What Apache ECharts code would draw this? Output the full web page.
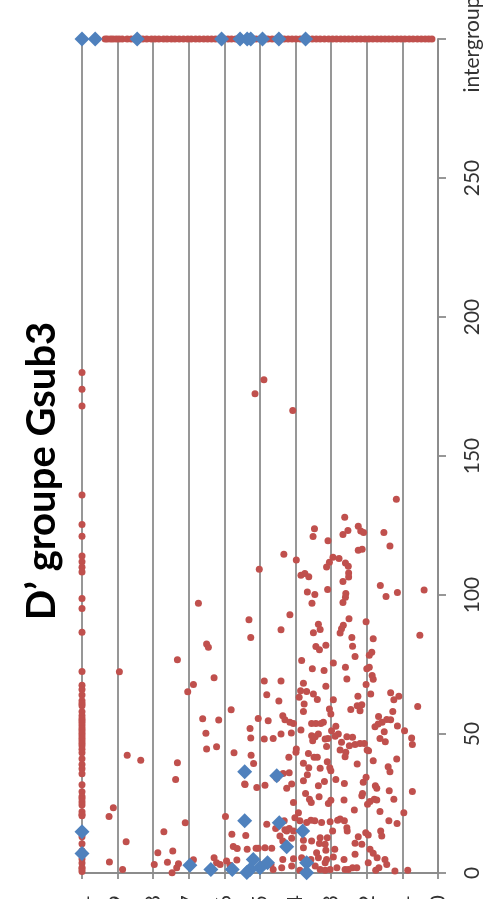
<!DOCTYPE html>
<html>
<head>
<meta charset="utf-8">
<script src="https://cdn.jsdelivr.net/npm/echarts@6.0.0/dist/echarts.min.js"></script>
<style>
html,body{margin:0;padding:0;background:#fff;}
#chart{width:493px;height:899px;}
</style>
</head>
<body>
<div id="chart"></div>
<script>
// Title and axis texts
const chartTitle = 'D’ groupe Gsub3';
const valueTicks = [0, 50, 100, 150, 200, 250, 300];
const intergroupLabel = 'intergroupe';
const INTERGROUP = 300;

// Red series: values at share = 1
const redShareOneValues = [180, 174, 168, 136, 125.4, 121.1, 114, 112, 110, 108.3, 98.7, 95.1, 86.6, 72.5, 67.5, 66, 64, 62, 61, 60.2, 58, 56.6, 55.5, 54.8, 54, 53, 52, 51.2, 50.3, 49.4, 48.5, 47.6, 46.7, 45.8, 44.5, 43.3, 41.1, 39, 37.5, 35.7, 31.7, 29.2, 27.5, 26.7, 25.5, 24.5, 22, 21, 20.6, 13, 10.5, 8, 5, 3.6, 2, 1.4, 0.5];

// Red series: shares of the "intergroupe" row
const redIntergroupShares = [0.935, 0.929, 0.92, 0.913, 0.904, 0.896, 0.887, 0.873, 0.862, 0.852, 0.838, 0.829, 0.818, 0.805, 0.795, 0.784, 0.771, 0.761, 0.749, 0.739, 0.727, 0.715, 0.703, 0.693, 0.681, 0.67, 0.658, 0.647, 0.636, 0.625, 0.613, 0.601, 0.59, 0.58, 0.568, 0.556, 0.545, 0.535, 0.523, 0.511, 0.5, 0.49, 0.478, 0.466, 0.455, 0.443, 0.432, 0.421, 0.41, 0.399, 0.387, 0.375, 0.364, 0.353, 0.342, 0.331, 0.319, 0.307, 0.296, 0.285, 0.273, 0.262, 0.251, 0.24, 0.228, 0.217, 0.205, 0.194, 0.183, 0.171, 0.16, 0.149, 0.138, 0.127, 0.115, 0.104, 0.093, 0.081, 0.07, 0.058, 0.047, 0.036, 0.026, 0.017];

// Red series: other points [share, value]
const redPoints = [
[0.489,177.4],[0.514,172.4],[0.408,166.4],[0.673,97],[0.531,91.1],[0.502,109.3],
[0.117,134.4],[0.262,128],[0.347,123.8],[0.351,121],[0.309,119.5],[0.267,121.8],[0.253,123.2],[0.224,124.7],[0.217,123],[0.209,122.5],[0.152,122.5],[0.135,117.6],[0.224,116.1],[0.213,116.5],[0.433,114.7],[0.398,112.6],[0.295,113.6],[0.305,111.8],[0.313,110.1],[0.278,113.1],[0.26,111.5],[0.252,110.3],[0.251,107.9],[0.251,106.5],[0.267,104.9],[0.385,107.1],[0.374,107.7],[0.363,106.6],[0.367,101.1],[0.346,100.2],[0.354,97],[0.31,102],[0.259,100.5],[0.26,99.2],[0.267,97.3],[0.162,103.4],[0.146,99.5],[0.114,100.9],[0.039,101.8],[0.416,92.9],[0.336,89.5],[0.25,91.5],[0.202,90.4],[0.441,87.5],
[0.051,85.5],[0.526,84.7],[0.35,86.4],[0.331,87.6],[0.275,86.3],[0.271,87.9],[0.266,89.1],[0.242,84.7],[0.182,84.3],[0.343,81.5],[0.333,80.3],[0.315,81.9],[0.24,81.6],[0.186,79.4],[0.193,78.3],[0.233,77.9],[0.383,76.4],[0.294,75.5],[0.353,73.5],[0.32,72.8],[0.26,74],[0.256,69.8],[0.2,73.5],[0.193,74],[0.185,71],[0.182,69.7],[0.202,67.8],[0.488,69.1],[0.441,69.1],[0.378,68.3],[0.386,65.6],[0.369,65.3],[0.35,64.4],[0.315,67.2],[0.481,64.1],[0.447,61.9],[0.39,63.2],[0.376,60.8],[0.339,62.4],[0.294,62.3],[0.189,64.4],[0.133,64.8],[0.124,62.3],[0.11,63.6],[0.225,63.6],[0.227,60.2],[0.214,60.5],[0.245,58.8],[0.219,58.4],[0.378,58.1],[0.305,59],[0.301,57.2],[0.057,59.9],[0.127,58.1],[0.167,56.3],[0.144,55.2],[0.133,55.1],[0.157,54.2],[0.168,53.6],[0.177,52.6],[0.114,52.9],[0.094,51.2],[0.151,50.8],[0.148,47.2],[0.163,48.4],[0.074,48.6],[0.072,46.2],
[0.505,55.6],[0.477,54.8],[0.436,56.6],[0.43,55.1],[0.416,54.2],[0.406,53.8],[0.385,51.4],[0.355,53.8],[0.343,53.8],[0.329,53.8],[0.322,54.2],[0.299,51.2],[0.287,52.8],[0.28,50],[0.289,49.2],[0.256,49],[0.24,48.8],[0.233,46.2],[0.219,46.6],[0.207,46.6],[0.249,45.8],[0.271,47],[0.275,44.2],[0.259,43.4],[0.199,44.2],[0.195,44],[0.528,52],[0.526,48.6],[0.488,48.2],[0.463,48.4],[0.441,50],[0.412,50.4],[0.398,44.6],[0.399,43.4],[0.352,47.6],[0.355,49.4],[0.345,49],[0.336,50],[0.317,48.2],[0.313,45.5],[0.309,48.4],
[0.525,42.4],[0.518,39.4],[0.419,41.6],[0.364,43],[0.348,41.6],[0.339,41.6],[0.378,39.5],[0.363,37.9],[0.331,37.7],[0.311,40],[0.304,37.9],[0.301,36.8],[0.261,41.8],[0.227,39.2],[0.182,40.4],[0.14,38.2],[0.135,36.4],[0.116,41],[0.543,32],[0.509,30.8],[0.486,31.6],[0.453,34.1],[0.435,35.8],[0.418,36.1],[0.411,32],[0.425,30.5],[0.378,33.2],[0.367,35.3],[0.336,31.4],[0.319,32.9],[0.287,33.6],[0.263,32.2],[0.21,32.6],[0.202,34.4],[0.176,31.4],[0.172,30.5],[0.137,29.6],[0.072,29.3],
[0.406,25.4],[0.372,28.6],[0.361,26.5],[0.356,25.4],[0.334,27.4],[0.308,25],[0.301,26.2],[0.264,26.3],[0.235,22.7],[0.214,27.8],[0.212,28.6],[0.198,24.7],[0.191,25.7],[0.179,26.5],[0.172,26.3],[0.163,22.1],[0.124,26.5],[0.096,21.7],[0.138,18.8],[0.115,17.8],[0.481,17.5],[0.456,16],[0.432,18.8],[0.425,15.1],[0.406,15.1],[0.392,21.7],[0.388,18.8],[0.369,18.2],[0.357,19],[0.346,18.8],[0.327,18.2],[0.303,18.4],[0.282,19],[0.275,19.4],[0.263,18.8],[0.255,15.1],[0.256,16.3],[0.296,15.1],[0.224,13],[0.214,10.3],[0.203,14.5],[0.196,13.7],[0.161,15.1],[0.158,13.3],
[0.191,8.5],[0.182,7.1],[0.171,5.5],[0.149,4.9],[0.144,3.1],[0.121,0.7],[0.085,1],[0.166,1.9],[0.175,1],[0.196,3.7],[0.233,6.7],[0.24,1.9],[0.252,1.3],[0.261,1.3],[0.264,4.9],[0.284,1.9],[0.294,5.8],[0.29,8.5],[0.315,8.2],[0.317,10.3],[0.311,12.7],[0.331,12.7],[0.333,10.6],[0.341,7.3],[0.336,5.5],[0.345,2.5],[0.331,1.3],[0.317,1],[0.303,1.3],[0.317,3.7],[0.313,4.9],[0.355,11.5],[0.378,11.8],[0.378,9.1],[0.357,4.9],[0.383,5.5],[0.406,5.1],[0.411,2.5],[0.388,1],[0.436,4.9],[0.439,1.9],[0.463,1.3],[0.469,3.1],[0.491,3.1],[0.505,8.9],[0.486,9.1],[0.467,8.9],[0.536,8.5],[0.444,13.3],[0.436,11.5],[0.411,12.5],[0.418,16],[0.43,15.6],[0.402,19.9],[0.233,10.7],[0.228,1.9],
[0.65,82.4],[0.645,81.2],[0.732,76.7],[0.895,72.4],[0.629,70.2],[0.687,67.8],[0.703,65.2],[0.581,58.7],[0.661,55.5],[0.616,55],[0.652,50.3],[0.65,44.6],[0.622,45.4],[0.573,43.3],[0.873,42.4],[0.835,40.6],[0.732,39.7],[0.737,33.6],[0.542,31.8],[0.912,23.5],[0.924,20.3],[0.71,18.1],[0.597,20.3],[0.77,14.8],[0.876,11.2],[0.579,13.9],[0.54,13.5],[0.575,9.5],[0.564,8.8],[0.511,8.9],[0.787,7.3],[0.745,7.9],[0.729,3.3],[0.734,1.9],[0.76,3.9],[0.797,3.1],[0.923,4],[0.886,1.3],[0.747,0.1],[0.687,4.8],[0.629,5.5],[0.622,3.7],[0.612,3.1],[0.594,4.3],[0.565,4.7],[0.584,2.8]
];

// Blue series
const blueIntergroupShares = [1.0, 0.963, 0.845, 0.608, 0.556, 0.536, 0.526, 0.493, 0.447, 0.372];
const bluePoints = [
[0.543,36.4],[0.453,35],[0.543,18.8],[0.446,18.1],[0.38,15.1],[0.425,9.4],[0.519,4.9],[0.479,3.7],[0.5,1.9],[0.528,1.3],[0.537,0.2],[0.369,3.7],[0.369,0.1],[0.697,2.8],[0.638,1.3],[0.578,1.3],[1.0,14.8],[1.0,7.0]
];

const RED = '#C0504D';
const BLUE = '#4F81BD';
const GRID = '#8c8c8c';
const FONT = 'Lato, "Open Sans", sans-serif';

const redData = []
  .concat(redShareOneValues.map(v => [1, v]))
  .concat(redIntergroupShares.map(s => [s, INTERGROUP]))
  .concat(redPoints);
const blueData = []
  .concat(blueIntergroupShares.map(s => [s, INTERGROUP]))
  .concat(bluePoints);

const chart = echarts.init(document.getElementById('chart'), null, {renderer: 'canvas'});
chart.setOption({
  animation: false,
  backgroundColor: '#fff',
  grid: {left: 82, right: 55, top: 39, bottom: 26, containLabel: false, outerBoundsMode: 'none'},
  graphic: [{
    type: 'text',
    x: 42, y: 471,
    rotation: Math.PI / 2,
    style: {
      text: chartTitle,
      font: 'bold 40px ' + FONT,
      fill: '#000',
      align: 'center', verticalAlign: 'middle',
      textAlign: 'center', textVerticalAlign: 'middle'
    }
  }],
  xAxis: {
    type: 'value', min: 0, max: 1, interval: 0.1, inverse: true, position: 'bottom',
    axisLine: {show: true, onZero: false, lineStyle: {color: GRID, width: 1.8}},
    axisTick: {show: true, length: 6, lineStyle: {color: GRID, width: 1.8}},
    splitLine: {show: true, lineStyle: {color: GRID, width: 1.8}},
    axisLabel: {
      rotate: 90, margin: 22, fontSize: 21, color: '#333', fontFamily: FONT,
      formatter: v => String(Math.round(v * 10) / 10).replace('.', ',')
    }
  },
  yAxis: {
    type: 'value', position: 'right', min: valueTicks[0], max: valueTicks[valueTicks.length - 1], interval: 50,
    axisLine: {show: true, onZero: false, lineStyle: {color: GRID, width: 1.8}},
    axisTick: {show: true, length: 8, lineStyle: {color: GRID, width: 1.8}},
    splitLine: {show: false},
    axisLabel: {
      rotate: 90, margin: 24, fontSize: 21, color: '#333', fontFamily: FONT,
      formatter: v => (v === INTERGROUP ? intergroupLabel : String(v))
    }
  },
  series: [
    {type: 'scatter', name: 'rouge', data: redData, symbol: 'circle', symbolSize: 7,
     itemStyle: {color: RED, opacity: 1}, z: 2},
    {type: 'scatter', name: 'bleu', data: blueData, symbol: 'diamond', symbolSize: 15,
     itemStyle: {color: BLUE, opacity: 1}, z: 3}
  ]
});
</script>
</body>
</html>
